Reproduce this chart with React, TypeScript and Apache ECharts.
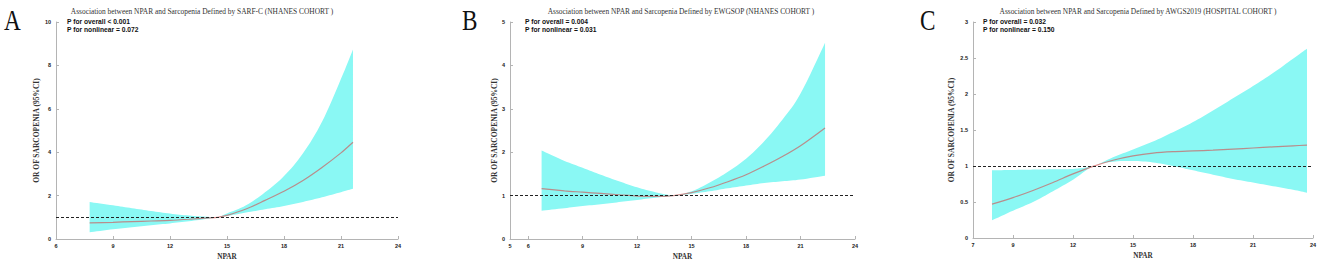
import React, { useEffect, useRef } from "react";
import * as echarts from "echarts";

// ---------- Data ----------
const A_X = [7.77, 9, 10, 11, 12, 13, 14, 14.5, 15, 16, 17, 18, 19, 20, 21, 21.63];
const A_MID = [0.74, 0.77, 0.8, 0.83, 0.86, 0.91, 0.97, 1.0, 1.09, 1.38, 1.78, 2.2, 2.7, 3.3, 3.97, 4.46];
const A_HI = [1.7, 1.55, 1.42, 1.29, 1.17, 1.08, 1.02, 1.0, 1.18, 1.55, 2.15, 2.9, 3.95, 5.4, 7.38, 8.73];
const A_LO = [0.31, 0.45, 0.54, 0.63, 0.72, 0.82, 0.93, 1.0, 1.06, 1.22, 1.37, 1.52, 1.71, 1.92, 2.16, 2.32];

const B_X = [6.74, 8, 9, 10, 11, 12, 13, 14, 15, 16, 17, 18, 19, 20, 21, 22.35];
const B_MID = [1.16, 1.11, 1.08, 1.05, 1.02, 0.99, 0.98, 1.0, 1.07, 1.18, 1.32, 1.48, 1.68, 1.9, 2.15, 2.56];
const B_HI = [2.04, 1.8, 1.64, 1.48, 1.33, 1.19, 1.08, 1.01, 1.1, 1.3, 1.55, 1.85, 2.25, 2.75, 3.35, 4.52];
const B_LO = [0.65, 0.71, 0.76, 0.8, 0.85, 0.9, 0.95, 0.99, 1.04, 1.1, 1.17, 1.23, 1.29, 1.33, 1.37, 1.46];

const C_X = [7.95, 9, 10, 11, 12, 13, 14, 15, 16, 17, 18, 19, 20, 21, 22, 23, 23.7];
const C_MID = [0.47, 0.56, 0.66, 0.77, 0.89, 0.995, 1.08, 1.14, 1.18, 1.2, 1.21, 1.22, 1.235, 1.25, 1.265, 1.28, 1.29];
const C_HI = [0.94, 0.945, 0.95, 0.955, 0.96, 1.0, 1.12, 1.23, 1.34, 1.47, 1.61, 1.77, 1.94, 2.11, 2.29, 2.49, 2.63];
const C_LO = [0.245, 0.38, 0.5, 0.65, 0.81, 0.995, 1.06, 1.07, 1.05, 1.0, 0.94, 0.88, 0.82, 0.77, 0.72, 0.67, 0.63];

const LETTERS = ["A", "B", "C"];
const TITLES = [
  "Association between NPAR and Sarcopenia Defined by SARF-C (NHANES COHORT )",
  "Association between NPAR and Sarcopenia Defined by EWGSOP (NHANES COHORT )",
  "Association between NPAR and Sarcopenia Defined by AWGS2019 (HOSPITAL COHORT )",
];
const P_OVERALL = ["P for overall < 0.001", "P for overall = 0.004", "P for overall = 0.032"];
const P_NONLIN = ["P for nonlinear = 0.072", "P for nonlinear = 0.031", "P for nonlinear = 0.150"];

const X_TICKS = [
  [6, 9, 12, 15, 18, 21, 24],
  [5, 6, 9, 12, 15, 18, 21, 24],
  [7, 9, 12, 15, 18, 21, 24],
];
const Y_MAX = [10, 5, 3];
const Y_INTERVAL = [2, 1, 0.5];
const X_NAME = "NPAR";
const Y_NAME = "OR OF SARCOPENIA (95%CI)";

// ---------- Layout ----------
const GRIDS = [
  { left: 56, top: 22, width: 342, height: 217 },
  { left: 510, top: 22, width: 345, height: 217 },
  { left: 973, top: 22, width: 340, height: 216 },
];
const LETTER_X = [4, 462, 920];
const TITLE_CX = [202, 681, 1138];
const P_X = [67, 525, 983];

const PANELS = [
  { x: A_X, mid: A_MID, hi: A_HI, lo: A_LO },
  { x: B_X, mid: B_MID, hi: B_HI, lo: B_LO },
  { x: C_X, mid: C_MID, hi: C_HI, lo: C_LO },
];

const BAND = "#8af8f4";
const AXIS_GRAY = "#b4b4b4";
const LABEL_FONT = { fontFamily: "Liberation Sans", fontWeight: "bold" as const, fontSize: 5.5, color: "#222" };

// Catmull-Rom smoothing of pixel points (rendering only)
function smoothPts(pts: number[][], steps = 8): number[][] {
  const out: number[][] = [];
  const n = pts.length;
  for (let i = 0; i < n - 1; i++) {
    const p0 = pts[Math.max(0, i - 1)];
    const p1 = pts[i];
    const p2 = pts[i + 1];
    const p3 = pts[Math.min(n - 1, i + 2)];
    for (let s = 0; s < steps; s++) {
      const t = s / steps;
      const t2 = t * t;
      const t3 = t2 * t;
      const f = (a: number, b: number, c: number, d: number) =>
        0.5 * (2 * b + (-a + c) * t + (2 * a - 5 * b + 4 * c - d) * t2 + (-a + 3 * b - 3 * c + d) * t3);
      out.push([f(p0[0], p1[0], p2[0], p3[0]), f(p0[1], p1[1], p2[1], p3[1])]);
    }
  }
  out.push(pts[n - 1]);
  return out;
}

export default function App() {
  const ref = useRef<HTMLDivElement>(null);
  useEffect(() => {
    document.body.style.margin = "0";
    const chart = echarts.init(ref.current!, null, { renderer: "svg" });

    const xAxis: any[] = [];
    const yAxis: any[] = [];
    const series: any[] = [];
    const graphic: any[] = [];

    PANELS.forEach((p, i) => {
      const ticks = X_TICKS[i];
      xAxis.push({
        type: "value",
        gridIndex: i,
        min: ticks[0],
        max: ticks[ticks.length - 1],
        name: X_NAME,
        nameLocation: "middle",
        nameGap: 14,
        nameTextStyle: { fontFamily: "Liberation Serif", fontWeight: "bold", fontSize: 7.2, color: "#333" },
        axisLine: { show: true, lineStyle: { color: AXIS_GRAY, width: 1 } },
        axisTick: { show: true, inside: true, length: 3, customValues: ticks, lineStyle: { color: AXIS_GRAY } },
        axisLabel: { ...LABEL_FONT, margin: 4, customValues: ticks, showMinLabel: true, showMaxLabel: true },
        splitLine: { show: false },
      });
      yAxis.push({
        type: "value",
        gridIndex: i,
        min: 0,
        max: Y_MAX[i],
        interval: Y_INTERVAL[i],
        name: Y_NAME,
        nameLocation: "middle",
        nameGap: i === 2 ? 18 : 12,
        nameTextStyle: { fontFamily: "Liberation Serif", fontWeight: "bold", fontSize: 7.5, color: "#333" },
        axisLine: { show: true, lineStyle: { color: AXIS_GRAY, width: 1 } },
        axisTick: { show: true, inside: true, length: 3, lineStyle: { color: AXIS_GRAY } },
        axisLabel: { ...LABEL_FONT, margin: 5 },
        splitLine: { show: false },
      });
      series.push({
        type: "custom",
        xAxisIndex: i,
        yAxisIndex: i,
        data: [0],
        z: 1,
        silent: true,
        renderItem: (_params: any, api: any) => {
          const up = p.x.map((x, k) => api.coord([x, p.hi[k]]));
          const lo = p.x.map((x, k) => api.coord([x, p.lo[k]]));
          const pts = smoothPts(up).concat(smoothPts(lo).reverse());
          return { type: "polygon", shape: { points: pts }, style: { fill: BAND, stroke: "none" } };
        },
      });
      series.push({
        type: "line",
        xAxisIndex: i,
        yAxisIndex: i,
        smooth: 0.3,
        symbol: "none",
        lineStyle: { color: "rgba(215,70,70,0.6)", width: 1.2 },
        data: p.x.map((x, k) => [x, p.mid[k]]),
        z: 3,
        markLine: {
          silent: true,
          symbol: "none",
          label: { show: false },
          lineStyle: { color: "#222", type: [3, 2], width: 1.2 },
          data: [{ yAxis: 1 }],
          z: 4,
        },
      });

      graphic.push({
        type: "text",
        left: LETTER_X[i],
        top: 6,
        style: { text: LETTERS[i], font: "29px 'Liberation Serif'", fill: "#111" },
        scaleX: 0.8,
      });
      graphic.push({
        type: "text",
        x: TITLE_CX[i],
        y: 11,
        style: {
          text: TITLES[i],
          font: "7.4px 'Liberation Serif'",
          fill: "#333",
          align: "center",
          verticalAlign: "middle",
        },
      });
      graphic.push({
        type: "text",
        x: P_X[i],
        y: 21.5,
        style: { text: P_OVERALL[i], font: "bold 6.7px 'Liberation Sans'", fill: "#111", verticalAlign: "middle" },
      });
      graphic.push({
        type: "text",
        x: P_X[i],
        y: 29.5,
        style: { text: P_NONLIN[i], font: "bold 6.7px 'Liberation Sans'", fill: "#111", verticalAlign: "middle" },
      });
    });

    chart.setOption({
      animation: false,
      backgroundColor: "#fff",
      grid: GRIDS.map((g) => ({ ...g })),
      xAxis,
      yAxis,
      series,
      graphic,
    });
    return () => chart.dispose();
  }, []);
  return <div ref={ref} style={{ width: 1325, height: 270 }} />;
}
